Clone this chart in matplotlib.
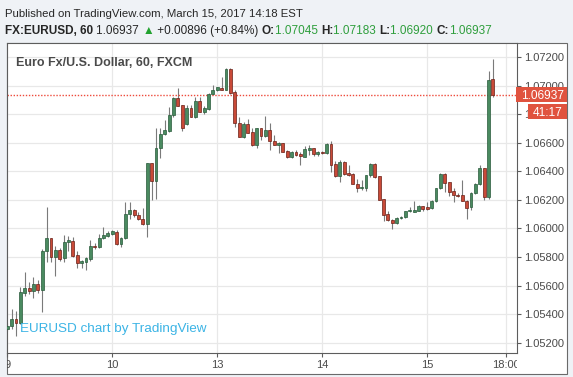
import numpy as np
import matplotlib
matplotlib.use("Agg")
import matplotlib.pyplot as plt
from matplotlib.patches import Rectangle
from matplotlib.transforms import blended_transform_factory, Bbox, TransformedBbox

# ---------------- data (hourly EURUSD candles) ----------------
opens = [1.0530, 1.05318, 1.05365, 1.05342, 1.05552, 1.05582, 1.05564, 1.0561, 1.0557, 1.05844,
         1.05931, 1.05798, 1.05851, 1.0579, 1.05903, 1.05915, 1.05814, 1.0576, 1.05763, 1.05786,
         1.0588, 1.05868, 1.05931, 1.0595, 1.05964, 1.05975, 1.05894, 1.05933, 1.06102, 1.06132,
         1.06097, 1.06069, 1.06029, 1.06455, 1.06331, 1.0656, 1.06658, 1.06682, 1.06794, 1.06916,
         1.06864, 1.06731, 1.06841, 1.06782, 1.06892, 1.06818, 1.06836, 1.0694, 1.0697, 1.06986,
         1.06972, 1.07117, 1.06953, 1.06736, 1.06642, 1.06731, 1.06672, 1.06584, 1.06705, 1.06647,
         1.06689, 1.06612, 1.06584, 1.066, 1.06542, 1.06502, 1.06535, 1.06523, 1.06502, 1.06549,
         1.0656, 1.06518, 1.06534, 1.06527, 1.06588, 1.06448, 1.06364, 1.06467, 1.06387, 1.06378,
         1.06312, 1.06286, 1.06284, 1.06371, 1.06448, 1.06364, 1.06207, 1.06102, 1.06062, 1.06036,
         1.06072, 1.06078, 1.0612, 1.06118, 1.06125, 1.06158, 1.06148, 1.06144, 1.06193, 1.0628,
         1.0638, 1.06322, 1.06261, 1.06237, 1.06233, 1.06193, 1.06151, 1.06251, 1.06308, 1.0642,
         1.06221, 1.07045]
highs = [1.0534, 1.05435, 1.05423, 1.05587, 1.05692, 1.05622, 1.05657, 1.0564, 1.05856, 1.0615,
         1.05933, 1.0588, 1.05866, 1.05954, 1.05949, 1.0594, 1.05844, 1.0578, 1.05798, 1.05919,
         1.0590, 1.05961, 1.06008, 1.05985, 1.05986, 1.05987, 1.0594, 1.06186, 1.06186, 1.06139,
         1.06115, 1.06144, 1.06455, 1.0646, 1.067, 1.06705, 1.06759, 1.06853, 1.0692, 1.06981,
         1.06866, 1.06864, 1.06864, 1.06923, 1.06923, 1.0686, 1.06946, 1.07005, 1.0699, 1.07063,
         1.07122, 1.07122, 1.0697, 1.06782, 1.06747, 1.06766, 1.06705, 1.06705, 1.06705, 1.06787,
         1.06736, 1.06654, 1.06602, 1.066, 1.06549, 1.06542, 1.06549, 1.06537, 1.06579, 1.06584,
         1.06565, 1.0654, 1.0654, 1.06598, 1.06612, 1.06471, 1.06476, 1.06471, 1.06441, 1.06387,
         1.06347, 1.0634, 1.06375, 1.06457, 1.06457, 1.06364, 1.06207, 1.06125, 1.06067, 1.06078,
         1.0609, 1.06125, 1.06153, 1.06191, 1.06165, 1.0616, 1.06184, 1.06198, 1.06284, 1.06385,
         1.06385, 1.06326, 1.06284, 1.06251, 1.06338, 1.06198, 1.06256, 1.06315, 1.06443, 1.06425,
         1.07103, 1.07183]
lows = [1.0528, 1.05299, 1.05248, 1.0533, 1.05529, 1.0554, 1.05517, 1.0555, 1.05416, 1.05763,
        1.05763, 1.05669, 1.05774, 1.05763, 1.05844, 1.05798, 1.0572, 1.0572, 1.0571, 1.05774,
        1.05856, 1.0586, 1.05926, 1.05938, 1.05952, 1.05887, 1.0587, 1.05929, 1.06069, 1.0608,
        1.06057, 1.06022, 1.0594, 1.06198, 1.06205, 1.0649, 1.06654, 1.06677, 1.06782, 1.0686,
        1.06682, 1.06724, 1.06778, 1.06775, 1.06813, 1.06799, 1.06829, 1.06935, 1.0696, 1.0697,
        1.06967, 1.06939, 1.06712, 1.06642, 1.06635, 1.06666, 1.06579, 1.0656, 1.06619, 1.06642,
        1.06549, 1.06584, 1.06525, 1.06532, 1.06495, 1.06495, 1.06509, 1.06443, 1.06497, 1.06513,
        1.06509, 1.0651, 1.0652, 1.06523, 1.06394, 1.06359, 1.06324, 1.06371, 1.06364, 1.06308,
        1.06254, 1.0627, 1.06265, 1.06359, 1.06354, 1.06202, 1.0605, 1.06055, 1.05996, 1.06032,
        1.06067, 1.06074, 1.06115, 1.06115, 1.0612, 1.06125, 1.0613, 1.06134, 1.06186, 1.06275,
        1.06256, 1.06228, 1.06186, 1.06221, 1.06191, 1.06069, 1.06127, 1.06244, 1.06303, 1.06198,
        1.06209, 1.06920]
closes = [1.0532, 1.05365, 1.05342, 1.05559, 1.0558, 1.05564, 1.0561, 1.0557, 1.05844, 1.05931,
          1.05798, 1.05851, 1.05786, 1.05903, 1.05919, 1.0581, 1.05756, 1.0577, 1.05791, 1.0588,
          1.05868, 1.05931, 1.05954, 1.05966, 1.0598, 1.05894, 1.05933, 1.06104, 1.06132, 1.06092,
          1.06069, 1.06029, 1.06455, 1.06331, 1.0656, 1.06658, 1.06689, 1.06794, 1.06916, 1.0686,
          1.06701, 1.06841, 1.06782, 1.06892, 1.06818, 1.06846, 1.06942, 1.0697, 1.06988, 1.06972,
          1.07117, 1.06946, 1.06736, 1.06642, 1.06731, 1.0667, 1.06584, 1.06705, 1.06647, 1.06689,
          1.06612, 1.06584, 1.066, 1.06532, 1.06502, 1.06537, 1.06513, 1.06504, 1.06553, 1.0656,
          1.0652, 1.06532, 1.06527, 1.06588, 1.06446, 1.06364, 1.06467, 1.06378, 1.06375, 1.06312,
          1.06284, 1.06291, 1.06371, 1.06448, 1.06359, 1.06202, 1.06097, 1.0606, 1.06036, 1.06074,
          1.06083, 1.0612, 1.06127, 1.06132, 1.0616, 1.06134, 1.06139, 1.06193, 1.0628, 1.0638,
          1.06319, 1.06256, 1.06233, 1.06228, 1.06193, 1.06144, 1.06251, 1.06308, 1.0642, 1.06221,
          1.0704, 1.06937]

x_tick_pos = [0, 24, 48, 72, 96, 114]
x_tick_labels = ["9", "10", "13", "14", "15", "18:00"]
y_tick_vals = [1.052, 1.054, 1.056, 1.058, 1.060, 1.062, 1.064, 1.066, 1.068, 1.070, 1.072]
y_tick_labels = ["1.05200", "1.05400", "1.05600", "1.05800", "1.06000", "1.06200",
                 "1.06400", "1.06600", "1.06800", "1.07000", "1.07200"]
last_price = 1.06937
last_label = "1.06937"
countdown = "41:17"

header1 = "Published on TradingView.com, March 15, 2017 14:18 EST"
header2 = [("FX:EURUSD, 60 ", "bold", "#262626"), ("1.06937 ", "normal", "#262626"),
           ("\u25B2", "normal", "#22a22f"), (" +0.00896 (+0.84%) ", "normal", "#262626"),
           ("O:", "bold", "#262626"), ("1.07045 ", "normal", "#2e9e3c"),
           ("H:", "bold", "#262626"), ("1.07183 ", "normal", "#2e9e3c"),
           ("L:", "bold", "#262626"), ("1.06920 ", "normal", "#2e9e3c"),
           ("C:", "bold", "#262626"), ("1.06937", "normal", "#2e9e3c")]
chart_title = "Euro Fx/U.S. Dollar, 60, FXCM"
watermark = "EURUSD chart by TradingView"

# ---------------- layout ----------------
W, H = 573, 377
FONT = ["Liberation Sans", "DejaVu Sans"]
plt.rcParams["font.family"] = FONT
fig = plt.figure(figsize=(W / 100, H / 100), dpi=100)
fig.patch.set_facecolor("#eff2f6")

def fx(p):
    return p / W

def fy(p):
    return 1 - p / H

# outer white panel
fig.add_artist(Rectangle((fx(6.5), fy(374)), fx(567) - fx(6.5), fy(43) - fy(374),
                         transform=fig.transFigure, facecolor="white",
                         edgecolor="#6a6a6a", lw=0.8, zorder=-1))

ax_l, ax_r, ax_t, ax_b = 7, 517, 43.3, 352.8
ax = fig.add_axes([fx(ax_l), fy(ax_b), fx(ax_r) - fx(ax_l), fy(ax_t) - fy(ax_b)])
ax.set_facecolor("white")
ymin, ymax = 1.0513, 1.07296
ax.set_ylim(ymin, ymax)
ax.set_xlim(-0.05, 116.5)

o = np.array(opens); h = np.array(highs); l = np.array(lows); c = np.array(closes)
x = np.arange(len(o))
up = c >= o
face = np.where(up, "#4a8a60", "#c94a38")
edge = np.where(up, "#285a3a", "#6a2017")
ax.vlines(x, l, h, color="#7a7a7a", lw=0.8, zorder=2)
body = np.maximum(np.abs(c - o), 0.00002)
ax.bar(x, body, bottom=np.minimum(o, c), width=0.66, color=face, edgecolor=edge,
       lw=0.5, zorder=3)

ax.axhline(last_price, color="#ee4b3c", lw=1.0, ls=(0, (1, 1.2)), zorder=2.5)

ax.set_yticks(y_tick_vals)
ax.set_yticklabels(y_tick_labels)
ax.set_xticks(x_tick_pos)
ax.set_xticklabels(x_tick_labels)
ax.yaxis.tick_right()
ax.grid(True, color="#e8e8e8", lw=0.9)
ax.set_axisbelow(True)
for s in ax.spines.values():
    s.set_color("#5d5d5d")
    s.set_linewidth(0.8)
ax.tick_params(axis="y", direction="out", length=3, width=0.8, color="#5d5d5d",
               pad=2, labelsize=8, labelcolor="#4a4a4a")
ax.tick_params(axis="x", direction="out", length=3, width=0.8, color="#5d5d5d",
               pad=2.5, labelsize=8, labelcolor="#4a4a4a")

clip = TransformedBbox(Bbox([[fx(ax_l), 0], [fx(ax_r), 1]]), fig.transFigure)
for lbl in ax.get_xticklabels():
    lbl.set_clip_box(clip)
    lbl.set_clip_on(True)

# labels hidden behind the price boxes (only their left edge peeks out)
hide_clip = TransformedBbox(Bbox([[0, 0], [fx(527.5), 1]]), fig.transFigure)
for lbl in ax.get_yticklabels():
    if lbl.get_text() == "1.06800":
        lbl.set_clip_box(hide_clip)
        lbl.set_clip_on(True)

# price label boxes on the right axis
px_per_unit = (ax_b - ax_t) / (ymax - ymin)
bt = blended_transform_factory(fig.transFigure, ax.transData)
hb = 15.5 / px_per_unit
fig.add_artist(Rectangle((fx(516), last_price - hb / 2), fx(567) - fx(516), hb,
                         transform=bt, facecolor="#e0533f", edgecolor="none", zorder=5))
fig.text(fx(521), last_price, last_label, transform=bt, color="white", fontsize=8.6,
         va="center_baseline", ha="left", zorder=6)
cy = last_price - 16.8 / px_per_unit
hc = 14.5 / px_per_unit
fig.add_artist(Rectangle((fx(528), cy - hc / 2), fx(567) - fx(528), hc,
                         transform=bt, facecolor="#e0533f", edgecolor="none", zorder=5))
fig.text(fx(532.5), cy, countdown, transform=bt, color="white", fontsize=8.6,
         va="center_baseline", ha="left", zorder=6)

renderer = fig.canvas.get_renderer()

def fit(t, target):
    w = t.get_window_extent(renderer).width
    t.set_fontsize(t.get_fontsize() * target / w)

t1 = fig.text(fx(5), fy(16.7), header1, fontsize=9, color="#262626", va="baseline")
fit(t1, 298)

def layout(size):
    xs = 5.0
    arts = []
    for s, wt, col in header2:
        t = fig.text(fx(xs), fy(34.3), s, fontsize=size, fontweight=wt, color=col,
                     va="baseline")
        xs += t.get_window_extent(renderer).width
        arts.append(t)
    return arts, xs - 5.0

arts, wtot = layout(9)
for a in arts:
    a.remove()
arts, wtot = layout(9 * 486 / wtot)

tt = ax.text(fx(15.5), fy(66), chart_title, transform=fig.transFigure, fontsize=9,
             fontweight="bold", color="#4a4a4a", va="baseline", zorder=6)
fit(tt, 176)
tw = fig.text(fx(20), fy(332), watermark, fontsize=10, color="#3cb4e5", va="baseline")
fit(tw, 187)

fig.savefig("out.png", dpi=100, facecolor=fig.get_facecolor())
